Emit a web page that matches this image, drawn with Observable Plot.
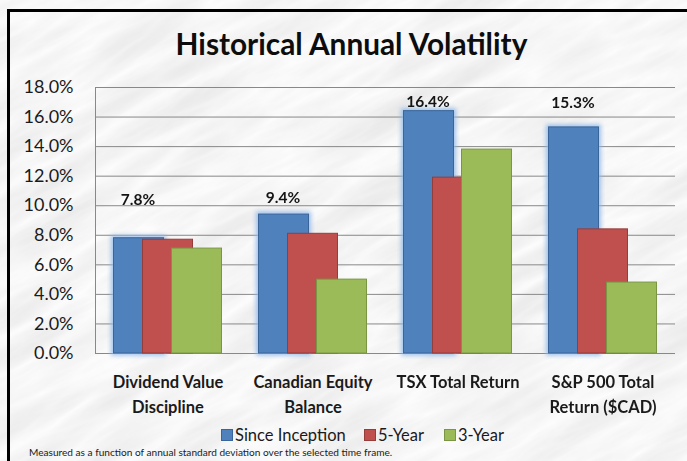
<!DOCTYPE html>
<html>
<head>
<meta charset="utf-8">
<script src="https://cdn.jsdelivr.net/npm/d3@7"></script>
<script src="https://cdn.jsdelivr.net/npm/@observablehq/plot@0.6"></script>
<style>
  html, body { margin: 0; padding: 0; background: #fff; }
  #wrap { position: relative; width: 687px; height: 461px; overflow: hidden; font-family: Lato, "Open Sans", sans-serif; color: #1a1a1a; }
  #bg { position: absolute; left: 0; top: 0; }
  #frame { position: absolute; left: 7px; top: 9px; width: 700px; height: 470px; border-top: 3px solid #000; border-left: 3px solid #000; }
  #title { position: absolute; left: 8px; top: 26px; width: 687px; text-align: center; font-weight: 700; font-size: 29.8px; line-height: 36px; color: #0d0d0d; }
  #chart { position: absolute; left: 0; top: 60px; }
  #legend { position: absolute; left: 0; top: 425px; width: 687px; height: 20px; }
  .sw { position: absolute; top: 4px; width: 10px; height: 10px; border: 1px solid; }
  .lt { position: absolute; top: 0; font-size: 16.5px; line-height: 20px; color: #1a1a1a; white-space: nowrap; }
  #caption { position: absolute; left: 29px; top: 445px; font-size: 10.1px; line-height: 14px; color: #1a1a1a; white-space: nowrap; }
</style>
</head>
<body>
<div id="wrap">
  <svg id="bg" width="687" height="461">
    <defs>
      <filter id="marble" x="-20%" y="-20%" width="140%" height="140%">
        <feTurbulence type="turbulence" baseFrequency="0.006 0.03" numOctaves="6" seed="11"/>
        <feColorMatrix type="matrix" values="-0.2 0 0 0 0.985  -0.2 0 0 0 0.985  -0.2 0 0 0 0.985  0 0 0 0 1"/>
      </filter>
    </defs>
    <g transform="rotate(-28 343 230)">
      <rect x="-300" y="-300" width="1300" height="1100" filter="url(#marble)"/>
    </g>
  </svg>
  <div id="frame"></div>
  <div id="title">Historical Annual Volatility</div>
  <div id="chart"></div>
  <div id="legend"></div>
  <div id="caption">Measured as a function of annual standard deviation over the selected time frame.</div>
</div>
<script>
// ---- data ----
const categories = ["Dividend Value Discipline", "Canadian Equity Balance", "TSX Total Return", "S&P 500 Total Return ($CAD)"];
const categoryLabels = ["Dividend Value\nDiscipline", "Canadian Equity\nBalance", "TSX Total Return", "S&P 500 Total\nReturn ($CAD)"];
const series = ["Since Inception", "5-Year", "3-Year"];
const sinceInception = [7.8, 9.4, 16.4, 15.3];
const fiveYear = [7.7, 8.1, 11.9, 8.4];
const threeYear = [7.1, 5.0, 13.8, 4.8];
const yTicks = [0, 2, 4, 6, 8, 10, 12, 14, 16, 18];

// ---- styles ----
const fills = ["#4F81BD", "#C0504D", "#9BBB59"];
const strokes = ["#3A659A", "#953D3A", "#7A9645"];
const labelDy = [-38, -17, -9, -24];

const seriesValues = [sinceInception, fiveYear, threeYear];
const rows = categories.flatMap((c, i) => series.map((s, j) => ({c, s, v: seriesValues[j][i], j})));
const blueRows = rows.filter(d => d.j === 0);
const fmt = d => d.toFixed(1) + "%";

const plot = Plot.plot({
  width: 687,
  height: 360,
  marginTop: 27,
  marginBottom: 67,
  marginLeft: 95,
  marginRight: 12,
  style: {background: "transparent", fontFamily: "Lato, 'Open Sans', sans-serif", color: "#1a1a1a", overflow: "visible"},
  fx: {domain: categories, padding: 0, axis: null, label: null},
  x: {domain: series, paddingInner: 0, paddingOuter: 1, axis: null, label: null},
  y: {domain: [0, d3.max(yTicks)], label: null},
  marks: [
    Plot.ruleY(yTicks, {stroke: "#888888", strokeWidth: 1}),
    Plot.barY([{c: categories[0], s: series[0]}], {fx: "c", x: "s", y1: 0, y2: d3.max(yTicks), fill: "#888888", insetLeft: -29, insetRight: 57}),
    Plot.axisY({ticks: yTicks, tickFormat: fmt, tickSize: 0, tickPadding: 22, fontSize: 18, fill: "#1a1a1a", label: null}),
    Plot.barY(blueRows, {fx: "c", x: "s", y: "v", fill: "#8fb8ea", stroke: "#8fb8ea", strokeWidth: 5, insetLeft: -10.5, insetRight: -10.5, ariaDescription: "glow"}),
    Plot.barY(rows, {fx: "c", x: "s", y: "v", fill: d => fills[d.j], stroke: d => strokes[d.j], strokeWidth: 1, insetLeft: -10.5, insetRight: -10.5}),
    ...blueRows.map((d, i) => Plot.text([d], {fx: "c", x: "s", y: "v", text: d => fmt(d.v), dy: labelDy[i], dx: -1, fontSize: 15.5, fontWeight: "bold", fill: "#141414"})),
    Plot.text(categories, {fx: d => d, text: (d, i) => categoryLabels[i], frameAnchor: "bottom", lineAnchor: "top", dy: 17, lineHeight: 1.49, fontSize: 16.5, fontWeight: "bold", fill: "#1a1a1a"})
  ]
});

// soft glow behind the "Since Inception" bars
const svg = d3.select(plot);
const defs = svg.insert("defs", ":first-child");
defs.append("filter").attr("id", "glowBlur").attr("x", "-30%").attr("y", "-30%").attr("width", "160%").attr("height", "160%")
  .append("feGaussianBlur").attr("stdDeviation", 2.2);
svg.selectAll('[aria-description="glow"]').attr("filter", "url(#glowBlur)").attr("opacity", 0.85);

document.getElementById("chart").appendChild(plot);

// legend
const legend = document.getElementById("legend");
const swatchX = [221, 364, 444];
series.forEach((s, j) => {
  const sw = document.createElement("div");
  sw.className = "sw";
  sw.style.left = swatchX[j] + "px";
  sw.style.background = fills[j];
  sw.style.borderColor = strokes[j];
  legend.appendChild(sw);
  const t = document.createElement("div");
  t.className = "lt";
  t.style.left = (swatchX[j] + 14) + "px";
  t.textContent = s;
  legend.appendChild(t);
});
</script>
</body>
</html>
